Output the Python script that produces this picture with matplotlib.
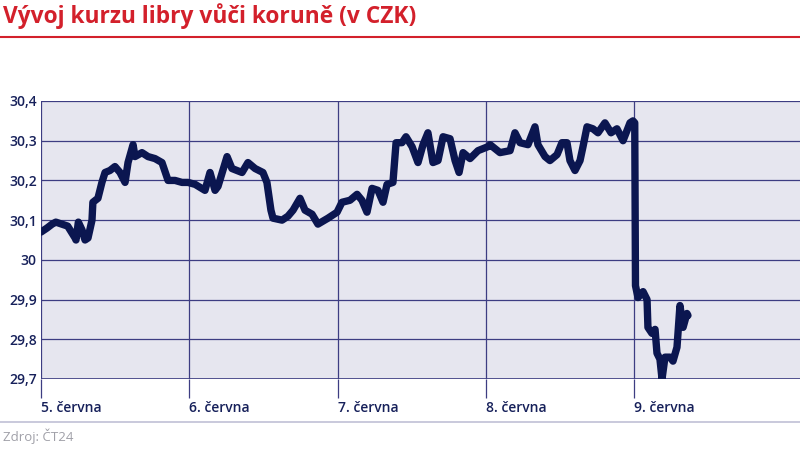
import matplotlib
matplotlib.use("Agg")
import matplotlib.pyplot as plt
from matplotlib.ticker import FuncFormatter

plt.rcParams["font.family"] = ["Open Sans", "DejaVu Sans"]

# time in days since 5 June (00:00), GBP/CZK rate
days = [0, 0.04, 0.075, 0.1, 0.14, 0.18, 0.23, 0.236, 0.252, 0.277, 0.297, 0.317,
        0.344, 0.35, 0.384, 0.411, 0.432, 0.465, 0.499, 0.533, 0.567, 0.587, 0.621,
        0.634, 0.681, 0.722, 0.769, 0.816, 0.857, 0.904, 0.951, 0.992,
        1.04, 1.106, 1.14, 1.174, 1.194, 1.255, 1.288, 1.356, 1.396, 1.444, 1.497,
        1.524, 1.551, 1.565, 1.626, 1.666, 1.7, 1.747, 1.781, 1.828, 1.868, 1.936, 1.997,
        2.03, 2.084, 2.132, 2.165, 2.199, 2.233, 2.273, 2.307, 2.334, 2.374, 2.395,
        2.435, 2.462, 2.503, 2.543, 2.577, 2.61, 2.644, 2.678, 2.712, 2.759, 2.793,
        2.82, 2.847, 2.894, 2.948, 3.015,
        3.029, 3.096, 3.164, 3.197, 3.231, 3.285, 3.332, 3.352, 3.4, 3.433, 3.481,
        3.514, 3.548, 3.568, 3.602, 3.636, 3.656, 3.683, 3.723, 3.757, 3.804, 3.845,
        3.885, 3.926, 3.973, 3.993, 4.005,
        4.01, 4.027, 4.061, 4.088, 4.094, 4.121, 4.142, 4.155, 4.175, 4.189, 4.209,
        4.243, 4.263, 4.29, 4.31, 4.331, 4.357, 4.364]
rate = [30.07, 30.08, 30.09, 30.095, 30.09, 30.085, 30.055, 30.05, 30.095, 30.075, 30.05, 30.055,
        30.1, 30.145, 30.155, 30.195, 30.22, 30.225, 30.235, 30.22, 30.195, 30.245, 30.29,
        30.26, 30.27, 30.26, 30.255, 30.245, 30.2, 30.2, 30.195, 30.195,
        30.19, 30.175, 30.22, 30.175, 30.185, 30.26, 30.23, 30.22, 30.245, 30.23, 30.22,
        30.195, 30.125, 30.105, 30.1, 30.11, 30.125, 30.155, 30.125, 30.115, 30.09, 30.105, 30.12,
        30.145, 30.15, 30.165, 30.15, 30.12, 30.18, 30.175, 30.145, 30.19, 30.195, 30.295,
        30.295, 30.31, 30.285, 30.245, 30.29, 30.32, 30.245, 30.25, 30.31, 30.305, 30.25,
        30.22, 30.27, 30.255, 30.275, 30.285,
        30.29, 30.27, 30.275, 30.32, 30.295, 30.29, 30.335, 30.29, 30.26, 30.25, 30.265,
        30.295, 30.295, 30.25, 30.225, 30.25, 30.285, 30.335, 30.33, 30.32, 30.345, 30.32,
        30.33, 30.3, 30.345, 30.35, 30.345,
        29.935, 29.905, 29.92, 29.9, 29.83, 29.815, 29.825, 29.765, 29.75, 29.7, 29.755,
        29.755, 29.745, 29.78, 29.885, 29.83, 29.865, 29.86]

day_ticks = [0, 1, 2, 3, 4]
day_labels = ["5. června", "6. června", "7. června", "8. června", "9. června"]
y_ticks = [29.7, 29.8, 29.9, 30.0, 30.1, 30.2, 30.3, 30.4]

navy = "#0b1650"
grid_c = "#3d3d82"

fig = plt.figure(figsize=(8, 4.49), dpi=100)
ax = fig.add_axes([41 / 800, 1 - 379 / 449, 759 / 800, 278 / 449])
ax.set_facecolor("#e6e6ef")

ax.plot(days, rate, color=navy, lw=5.3, solid_joinstyle="round", solid_capstyle="round", zorder=3)

ax.set_xlim(0, 759 / 148.25)
ax.set_ylim(29.7, 30.4)
ax.set_yticks(y_ticks)
ax.yaxis.set_major_formatter(FuncFormatter(lambda v, p: ("%g" % round(v, 1)).replace(".", ",")))
ax.set_xticks(day_ticks)
ax.set_xticklabels(day_labels)
ax.grid(True, color=grid_c, lw=0.9, zorder=1)
for s in ax.spines.values():
    s.set_visible(False)
ax.axhline(29.7, color=grid_c, lw=1.2, zorder=2)

ax.tick_params(axis="y", length=0, pad=3, labelsize=10, labelcolor="#16205a")
ax.tick_params(axis="x", length=14, width=0.9, color=grid_c, pad=2, labelsize=10, labelcolor="#16205a")
for lab in ax.get_xticklabels():
    lab.set_horizontalalignment("left")
    lab.set_fontweight("semibold")
for lab in ax.get_yticklabels():
    lab.set_fontweight("semibold")

fig.text(3 / 800, 1 - 16 / 449, "Vývoj kurzu libry vůči koruně (v CZK)", color="#d3202b",
         fontsize=16.4, fontweight="bold", va="center", ha="left")
fig.add_artist(plt.Line2D([0, 1], [1 - 37 / 449, 1 - 37 / 449], color="#d3202b", lw=1.5))
fig.add_artist(plt.Line2D([0, 1], [1 - 422 / 449, 1 - 422 / 449], color="#c0c0d6", lw=1.2))
fig.text(3 / 800, 1 - 436 / 449, "Zdroj: ČT24", color="#a0a0a8", fontsize=9.5, va="center", ha="left")

fig.savefig("out.png", dpi=100)
